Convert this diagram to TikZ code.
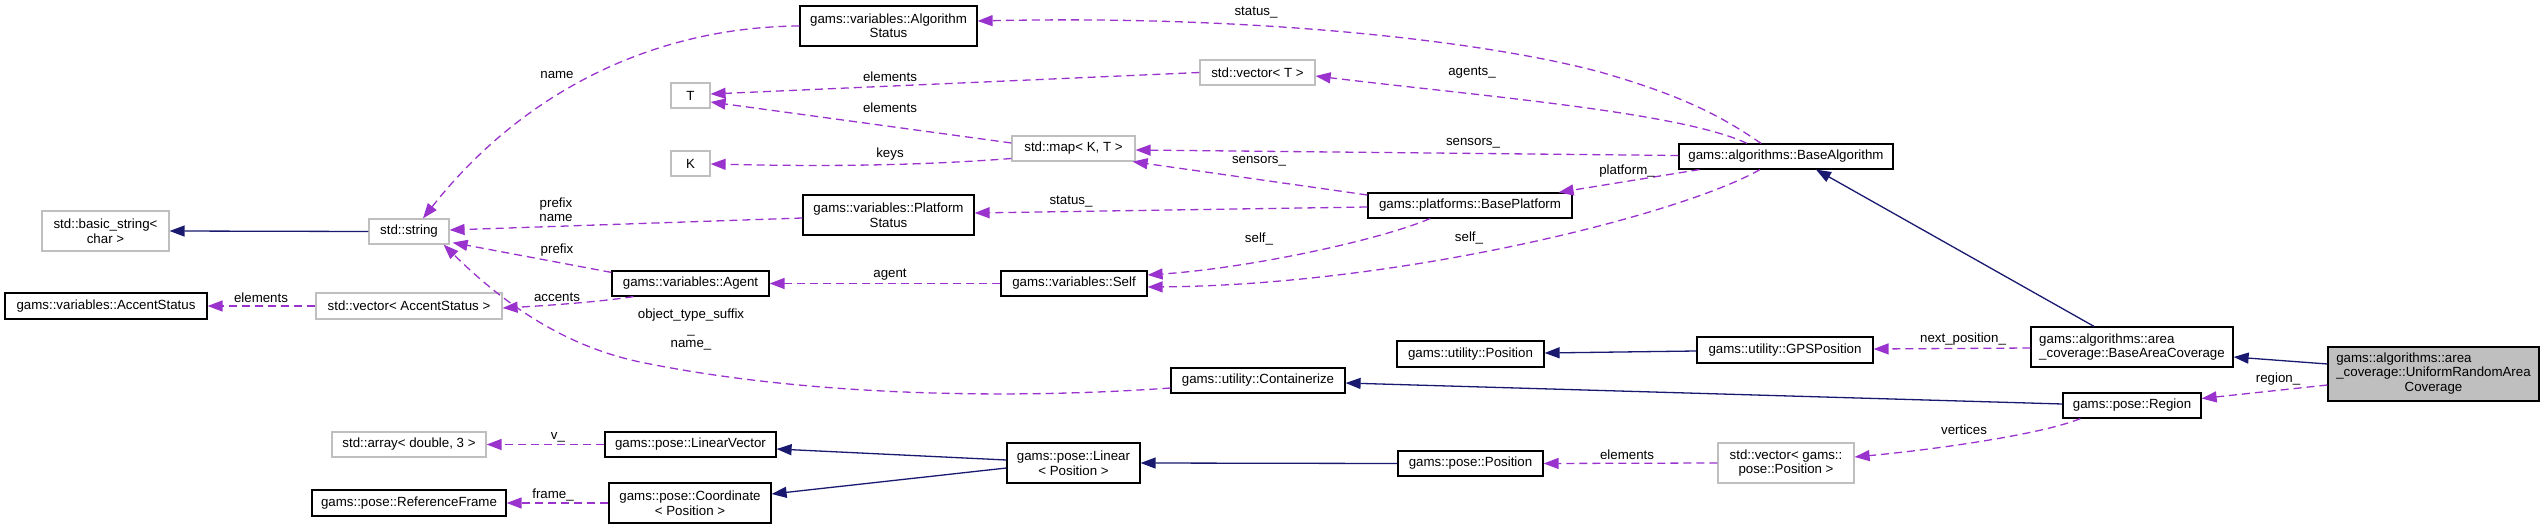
\documentclass[tikz,border=0pt]{standalone}
\usepackage{fontspec}
\setmainfont{Liberation Sans}
\usetikzlibrary{arrows.meta,calc}
\definecolor{usecol}{HTML}{9A32CD}
\definecolor{inhcol}{HTML}{191970}
\definecolor{extcol}{HTML}{BFBFBF}
\begin{document}
\begin{tikzpicture}[x=1pt,y=-1pt,
  every node/.style={font=\fontsize{13.3}{14.5}\selectfont, inner sep=0pt},
  boxbase/.style={line width=1.2pt, minimum height=25pt},
  cls/.style={boxbase, draw=black, fill=white, align=center},
  ext/.style={boxbase, draw=extcol, fill=white, align=center},
  usearr/.style={draw=usecol, line width=1.3pt, dash pattern=on 8pt off 5pt, -{Triangle[length=15pt,width=11pt]}},
  inharr/.style={draw=inhcol, line width=1.3pt, -{Triangle[length=15pt,width=11pt]}},
  lbl/.style={text=black, align=center}
]
\useasboundingbox (0,0) rectangle (2545,529);
% nodes
\node[cls, minimum width=177pt, minimum height=40pt] (algst) at (888.5,26) {gams::variables::Algorithm\\Status};
\node[ext, minimum width=39pt] (T) at (690.5,95.5) {T};
\node[ext, minimum width=39pt] (K) at (690.5,163.5) {K};
\node[ext, minimum width=127pt, minimum height=40pt] (bstr) at (105.5,231) {std::basic\_string<\\char >};
\node[ext, minimum width=80pt] (str) at (409,231.5) {std::string};
\node[cls, minimum width=171pt, minimum height=40pt] (plst) at (888.5,215) {gams::variables::Platform\\Status};
\node[ext, minimum width=115pt] (vecT) at (1257.5,72.5) {std::vector< T >};
\node[ext, minimum width=123pt] (map) at (1073.5,148.5) {std::map< K, T >};
\node[cls, minimum width=204pt] (bplat) at (1470,205.5) {gams::platforms::BasePlatform};
\node[cls, minimum width=214pt] (balg) at (1786,156.5) {gams::algorithms::BaseAlgorithm};
\node[cls, minimum width=202pt, minimum height=26pt] (accst) at (106,306) {gams::variables::AccentStatus};
\node[ext, minimum width=186pt, minimum height=26pt] (vacc) at (409,306) {std::vector< AccentStatus >};
\node[cls, minimum width=157pt] (agent) at (690.5,283.5) {gams::variables::Agent};
\node[cls, minimum width=146pt] (self) at (1074,283.5) {gams::variables::Self};
\node[cls, minimum width=147pt, minimum height=26pt] (upos) at (1470.5,354) {gams::utility::Position};
\node[cls, minimum width=174pt] (cont) at (1258,380.5) {gams::utility::Containerize};
\node[ext, minimum width=154pt] (arr) at (409,444.5) {std::array< double, 3 >};
\node[cls, minimum width=171pt] (lvec) at (690.5,444.5) {gams::pose::LinearVector};
\node[cls, minimum width=194pt, minimum height=26pt] (rf) at (409,503) {gams::pose::ReferenceFrame};
\node[cls, minimum width=162pt, minimum height=40pt] (coord) at (690,503) {gams::pose::Coordinate\\< Position >};
\node[cls, minimum width=133pt, minimum height=40pt] (lin) at (1073.5,463) {gams::pose::Linear\\< Position >};
\node[cls, minimum width=145pt] (ppos) at (1470.5,463.5) {gams::pose::Position};
\node[cls, minimum width=176pt, minimum height=26pt] (gps) at (1785,350) {gams::utility::GPSPosition};
\node[cls, minimum width=202pt, minimum height=40pt, align=left] (bac) at (2132,347) {gams::algorithms::area\\\_coverage::BaseAreaCoverage};
\node[boxbase, draw=black, fill=extcol, minimum width=211pt, minimum height=54pt] (unif) at (2433.5,374) {\begin{tabular}{@{}l@{}}gams::algorithms::area\\\_coverage::UniformRandomArea\\\multicolumn{1}{@{}c@{}}{Coverage}\end{tabular}};
\node[cls, minimum width=138pt] (region) at (2132,405.5) {gams::pose::Region};
\node[ext, minimum width=136pt, minimum height=40pt] (vpos) at (1786,463) {std::vector< gams::\\pose::Position >};
% inheritance
\draw[inharr] (str.west) -- (bstr.east);
\draw[inharr] ($(bac.north)+(-38,0)$) -- ($(balg.south)+(30,0)$);
\draw[inharr] ($(unif.west)+(0,-10)$) -- ($(bac.east)+(0,10)$);
\draw[inharr] (ppos.west) -- (lin.east);
\draw[inharr] ($(lin.west)+(0,-3)$) -- ($(lvec.east)+(0,4.5)$);
\draw[inharr] ($(lin.west)+(0,5)$) -- ($(coord.east)+(0,-9)$);
\draw[inharr] ($(region.west)+(0,-1.5)$) -- ($(cont.east)+(0,2.5)$);
\draw[inharr] ($(gps.west)+(0,1)$) -- ($(upos.east)+(0,-1)$);
% usage
\draw[usearr] (algst.west) .. controls (650,27) and (520,95) .. ($(str.north)+(14,0)$) node[lbl] (l1) at (557,75) {name};
\draw[usearr] (vecT.west) -- ($(T.east)+(0,-1.5)$) node[lbl] (l2) at (890,77) {elements};
\draw[usearr] ($(map.west)+(0,-5.5)$) -- ($(T.east)+(0,6.5)$) node[lbl] (l3) at (890,108) {elements};
\draw[usearr] ($(map.west)+(0,10)$) .. controls (900,167) and (800,166) .. ($(K.east)+(0,0.5)$) node[lbl] (l4) at (890,154) {keys};
\draw[usearr] ($(balg.north)+(-25,0)$) .. controls (1720,115) and (1680,95) .. (1600,72) .. controls (1480,40) and (1250,15) .. ($(algst.east)+(0,-5)$) node[lbl] (l5) at (1256,13) {status\_};
\draw[usearr] ($(balg.north)+(-39,0)$) .. controls (1680,112) and (1480,96) .. ($(vecT.east)+(0,3.5)$) node[lbl] (l6) at (1472,73) {agents\_};
\draw[usearr] ($(balg.west)+(0,-1)$) -- ($(map.east)+(0,1.5)$) node[lbl] (l7) at (1473,143) {sensors\_};
\draw[usearr] ($(balg.south west)+(21,0)$) -- ($(bplat.north east)+(-14,0)$) node[lbl] (l8) at (1627,171) {platform\_};
\draw[usearr] ($(balg.south)+(-26,0)$) .. controls (1680,215) and (1400,285) .. ($(self.east)+(0,3.5)$) node[lbl] (l9) at (1469,238) {self\_};
\draw[usearr] ($(bplat.south)+(-40,0)$) .. controls (1380,240) and (1250,268) .. ($(self.east)+(0,-8.5)$) node[lbl] (l10) at (1259,239) {self\_};
\draw[usearr] ($(bplat.west)+(0,-10.5)$) -- ($(map.south east)+(-3,0)$) node[lbl] (l11) at (1259,161) {sensors\_};
\draw[usearr] ($(bplat.west)+(0,1.5)$) -- ($(plst.east)+(0,-2)$) node[lbl] (l12) at (1071,202) {status\_};
\draw[usearr] ($(plst.west)+(0,3)$) -- ($(str.east)+(0,-1.5)$) node[lbl] (l13) at (556,209.5) {prefix\\name};
\draw[usearr] ($(agent.north west)+(0,2)$) -- ($(str.south east)+(3,-2)$) node[lbl] (l14) at (557,250) {prefix};
\draw[usearr] (self.west) -- (agent.east) node[lbl] (l15) at (890,275) {agent};
\draw[usearr] ($(agent.south west)+(22,0)$) .. controls (600,302) and (540,306) .. ($(vacc.east)+(0,2)$) node[lbl] (l16) at (557,297) {accents};
\draw[usearr] (vacc.west) -- (accst.east) node[lbl] (l17) at (261,298) {elements};
\draw[usearr] ($(cont.west)+(0,7.5)$) .. controls (1000,400) and (800,395) .. (640,362) .. controls (560,345) and (500,300) .. ($(str.south east)+(-6,0)$) node[lbl] (l18) at (691,330) {object\_type\_suffix\\\_\\name\_};
\draw[usearr] ($(bac.west)+(0,1)$) -- ($(gps.east)+(0,-1)$) node[lbl] (l19) at (1963,339) {next\_position\_};
\draw[usearr] ($(unif.west)+(0,11)$) -- ($(region.east)+(0,-7)$) node[lbl] (l20) at (2278,379) {region\_};
\draw[usearr] ($(region.south west)+(18,0)$) .. controls (2040,435) and (1930,450) .. ($(vpos.east)+(0,-6)$) node[lbl] (l21) at (1964,430) {vertices};
\draw[usearr] (vpos.west) -- (ppos.east) node[lbl] (l22) at (1627,455) {elements};
\draw[usearr] (lvec.west) -- (arr.east) node[lbl] (l23) at (558,437) {v\_};
\draw[usearr] (coord.west) -- (rf.east) node[lbl] (l24) at (553,495) {frame\_};
\end{tikzpicture}
\end{document}
